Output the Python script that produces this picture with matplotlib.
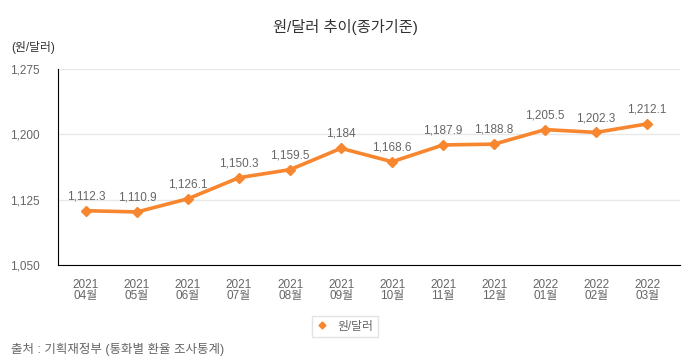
import matplotlib
matplotlib.use("Agg")
import matplotlib.pyplot as plt
from matplotlib.ticker import FuncFormatter

plt.rcParams['font.family'] = ['Liberation Sans', 'Noto Sans CJK KR', 'DejaVu Sans']

months = ["2021\n04월", "2021\n05월", "2021\n06월", "2021\n07월", "2021\n08월", "2021\n09월",
          "2021\n10월", "2021\n11월", "2021\n12월", "2022\n01월", "2022\n02월", "2022\n03월"]
values = [1112.3, 1110.9, 1126.1, 1150.3, 1159.5, 1184, 1168.6, 1187.9, 1188.8, 1205.5, 1202.3, 1212.1]
yticks = [1050, 1125, 1200, 1275]
series_name = "원/달러"

color = "#F7862F"
gray = "#666666"

fig = plt.figure(figsize=(6.9, 3.6), dpi=100)
ax = fig.add_axes([0.084, 0.264, 0.902, 0.544])

x = list(range(len(months)))
ax.plot(x, values, color=color, lw=2.6, marker="D", ms=5, label=series_name, zorder=3)
for xi, v in zip(x, values):
    lab = f"{v:,.1f}" if v != int(v) else f"{int(v):,}"
    ax.annotate(lab, (xi, v), xytext=(0, 6), textcoords="offset points",
                ha="center", va="bottom", fontsize=8.5, color=gray)

ax.set_xlim(-0.55, len(months) - 0.35)
ax.set_ylim(1050, 1275)
ax.set_yticks(yticks)
ax.yaxis.set_major_formatter(FuncFormatter(lambda v, p: f"{int(v):,}"))
ax.set_xticks(x)
ax.set_xticklabels(months, fontsize=8.5, color=gray, linespacing=0.95)
ax.tick_params(axis="y", labelsize=8.5, labelcolor=gray, length=0, pad=13)
ax.tick_params(axis="x", length=0, pad=10)
ax.grid(axis="y", color="#E8E8E8", lw=1)
ax.set_axisbelow(True)
for s in ["top", "right"]:
    ax.spines[s].set_visible(False)
ax.spines["left"].set_color("black")
ax.spines["bottom"].set_color("black")

fig.text(0.5, 0.925, "원/달러 추이(종가기준)", ha="center", va="center", fontsize=11, color="#333333")
fig.text(0.017, 0.868, "(원/달러)", ha="left", va="center", fontsize=8.5, color="#333333")
fig.text(0.016, 0.028, "출처 : 기획재정부 (통화별 환율 조사통계)", ha="left", va="center", fontsize=9, color=gray)

leg = fig.legend(handles=ax.get_lines(), loc="center", bbox_to_anchor=(0.5, 0.093),
                 fontsize=8.5, frameon=True, fancybox=False, edgecolor="#DDDDDD",
                 handlelength=1.0, markerscale=0.7, labelcolor=gray)
leg.get_lines()[0].set_linestyle("none")

fig.savefig("out.png", dpi=100)
